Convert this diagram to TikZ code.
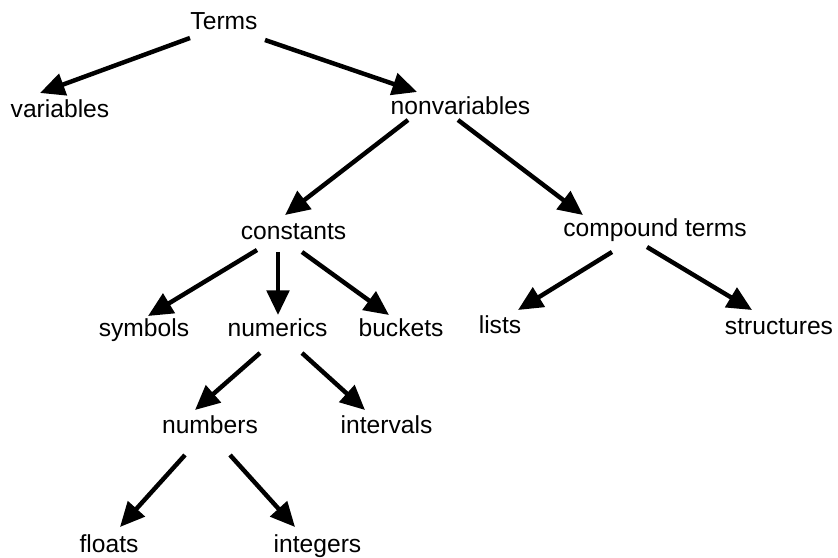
\documentclass[tikz,border=0pt]{standalone}
\usepackage{fontspec}
\setmainfont{Liberation Sans}
\usetikzlibrary{arrows.meta}

\tikzset{
  term/.style={anchor=base, inner sep=0pt, font=\fontsize{21}{25}\selectfont},
  link/.style={line width=3.8pt, -{Triangle[length=21pt, width=19pt]}}
}

\begin{document}
\begin{tikzpicture}[x=0.853pt, y=-0.853pt]
  \useasboundingbox (0,0) rectangle (838,558);
  \node[term] (terms) at (224,30) {Terms};
  \node[term] (variables) at (60,118) {variables};
  \node[term] (nonvariables) at (460.5,115) {nonvariables};
  \node[term] (constants) at (293.5,240) {constants};
  \node[term] (compound) at (655,237) {compound terms};
  \node[term] (symbols) at (144,336) {symbols};
  \node[term] (numerics) at (277.5,336) {numerics};
  \node[term] (buckets) at (401,336) {buckets};
  \node[term] (lists) at (500,334) {lists};
  \node[term] (structures) at (779,335) {structures};
  \node[term] (numbers) at (210,433) {numbers};
  \node[term] (intervals) at (386.5,433) {intervals};
  \node[term] (floats) at (109,552) {floats};
  \node[term] (integers) at (317.5,552) {integers};
  \draw[link] ([shift={(-34,8)}]terms.base) -- ([shift={(-20,-25)}]variables.base);
  \draw[link] ([shift={(41,10)}]terms.base) -- ([shift={(-43.5,-23)}]nonvariables.base);
  \draw[link] ([shift={(-52.5,5)}]nonvariables.base) -- ([shift={(-8.5,-25)}]constants.base);
  \draw[link] ([shift={(-2.5,5)}]nonvariables.base) -- ([shift={(-72,-22)}]compound.base);
  \draw[link] ([shift={(-36.5,10)}]constants.base) -- ([shift={(4,-20)}]symbols.base);
  \draw[link] ([shift={(-15.5,12)}]constants.base) -- ([shift={(0.5,-21)}]numerics.base);
  \draw[link] ([shift={(8.5,12)}]constants.base) -- ([shift={(-12,-21)}]buckets.base);
  \draw[link] ([shift={(-43,15)}]compound.base) -- ([shift={(18,-24)}]lists.base);
  \draw[link] ([shift={(-8,10)}]compound.base) -- ([shift={(-27,-25)}]structures.base);
  \draw[link] ([shift={(-17.5,17)}]numerics.base) -- ([shift={(-15,-23)}]numbers.base);
  \draw[link] ([shift={(24.5,17)}]numerics.base) -- ([shift={(-21.5,-23)}]intervals.base);
  \draw[link] ([shift={(-25,22)}]numbers.base) -- ([shift={(11,-25)}]floats.base);
  \draw[link] ([shift={(20,22)}]numbers.base) -- ([shift={(-22.5,-25)}]integers.base);
\end{tikzpicture}
\end{document}
